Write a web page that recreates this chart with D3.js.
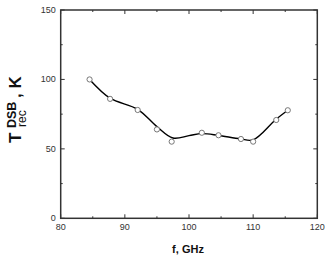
<!DOCTYPE html>
<html>
<head>
<meta charset="utf-8">
<script src="https://cdn.jsdelivr.net/npm/d3@7"></script>
<style>
  html, body { margin: 0; padding: 0; background: #fff; }
  svg { display: block; font-family: "Liberation Sans", Arial, sans-serif; }
</style>
</head>
<body>
<div id="chart"></div>
<script>
// measured points (open circles)
const freq = [84.5, 87.7, 92.0, 95.0, 97.3, 102.0, 104.6, 108.1, 110.0, 113.6, 115.4];
const temp = [100, 86, 78, 64, 55.2, 61.6, 59.8, 57.1, 55.2, 70.8, 77.8];
// smooth fit line
const fitF = [84.5, 87.7, 92, 95, 97.5, 100, 102, 104.5, 108, 110, 113.5, 115.4];
const fitT = [100, 86.5, 78.5, 66, 57.8, 59.5, 61, 59.8, 57.2, 56.5, 71, 77.8];
const xMajor = [80, 90, 100, 110, 120];
const xMinor = [85, 95, 105, 115];
const yMajor = [0, 50, 100, 150];
const yMinor = [25, 75, 125];

const W = 332, H = 259;
const L = 60.7, R = 317.3, T = 10, B = 218.3;

const x = d3.scaleLinear().domain([80, 120]).range([L, R]);
const y = d3.scaleLinear().domain([0, 150]).range([B, T]);

const svg = d3.select('#chart').append('svg').attr('width', W).attr('height', H);

// tick marks, inward on all four sides
const tk = svg.append('g').attr('stroke', '#333').attr('stroke-width', 1);
const tick = (arr, len, horiz) => arr.forEach(v => {
  if (horiz) {
    tk.append('line').attr('x1', x(v)).attr('x2', x(v)).attr('y1', B).attr('y2', B - len);
    tk.append('line').attr('x1', x(v)).attr('x2', x(v)).attr('y1', T).attr('y2', T + len);
  } else {
    tk.append('line').attr('y1', y(v)).attr('y2', y(v)).attr('x1', L).attr('x2', L + len);
    tk.append('line').attr('y1', y(v)).attr('y2', y(v)).attr('x1', R).attr('x2', R - len);
  }
});
tick(xMajor, 4, true); tick(xMinor, 2, true);
tick(yMajor, 4, false); tick(yMinor, 2, false);

svg.append('rect').attr('x', L).attr('y', T).attr('width', R - L).attr('height', B - T)
  .attr('fill', 'none').attr('stroke', '#333').attr('stroke-width', 1.5);

// tick labels
xMajor.forEach(v => svg.append('text').attr('x', x(v)).attr('y', B + 12)
  .attr('text-anchor', 'middle').attr('font-size', 9).attr('fill', '#333').text(v));
yMajor.forEach(v => svg.append('text').attr('x', L - 5).attr('y', y(v) + 3)
  .attr('text-anchor', 'end').attr('font-size', 9).attr('fill', '#333').text(v));

// fit line
const line = d3.line().x(d => x(d[0])).y(d => y(d[1])).curve(d3.curveCatmullRom.alpha(0.5));
svg.append('path').datum(d3.zip(fitF, fitT)).attr('d', line)
  .attr('fill', 'none').attr('stroke', '#000').attr('stroke-width', 1.4);

// points
svg.selectAll('circle.pt').data(d3.zip(freq, temp)).join('circle')
  .attr('cx', d => x(d[0])).attr('cy', d => y(d[1])).attr('r', 2.6)
  .attr('fill', '#fff').attr('stroke', '#777').attr('stroke-width', 1);

// axis titles
svg.append('text').attr('x', 188).attr('y', 253).attr('text-anchor', 'middle')
  .attr('font-size', 11).attr('font-weight', 'bold').attr('fill', '#111').text('f, GHz');

const yt = svg.append('g').attr('transform', 'translate(21,143) rotate(-90)')
  .attr('fill', '#111');
yt.append('text').attr('x', 0).attr('y', 0).attr('font-size', 17).attr('font-weight', 'bold').text('T');
yt.append('text').attr('x', 15).attr('y', -5).attr('font-size', 12.5).attr('font-weight', 'bold').text('DSB');
yt.append('text').attr('x', 16).attr('y', 5).attr('font-size', 12).text('rec');
yt.append('text').attr('x', 45).attr('y', 0).attr('font-size', 17).attr('font-weight', 'bold').text(', K');
</script>
</body>
</html>
